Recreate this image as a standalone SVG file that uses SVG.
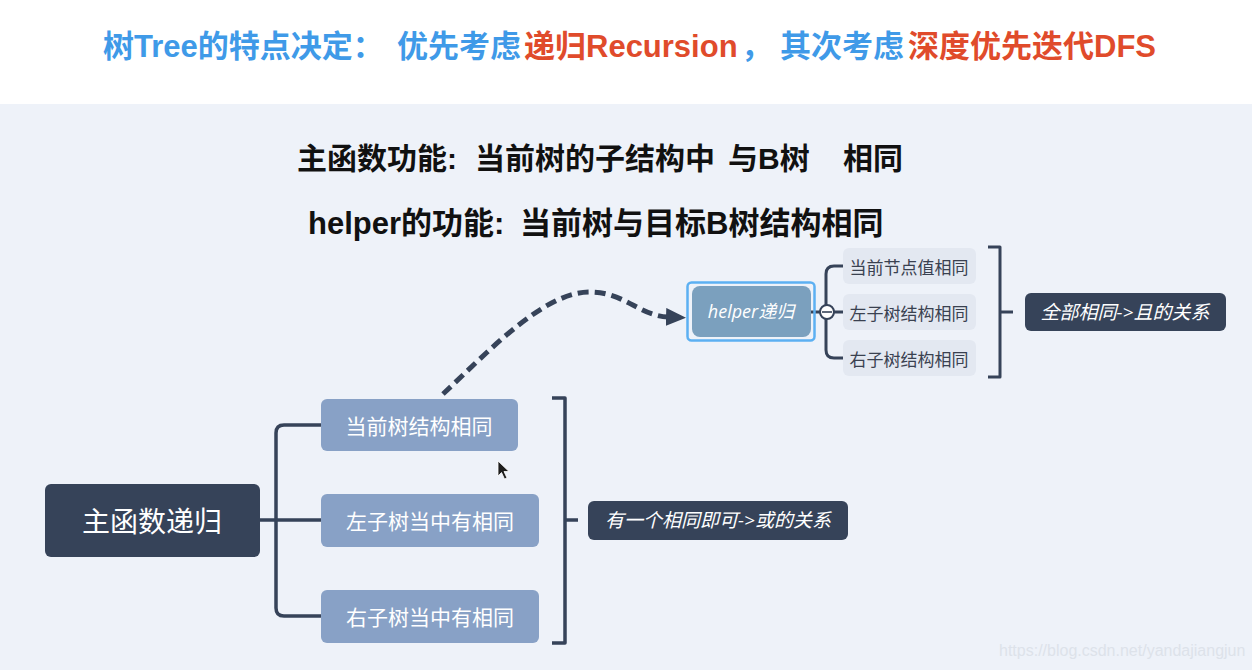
<svg xmlns="http://www.w3.org/2000/svg" width="1252" height="670" viewBox="0 0 1252 670">
  <defs>
    <style>
      .title { font-family: "Liberation Sans", "Noto Sans CJK SC", sans-serif; font-weight: bold; font-size: 31px; }
      .blue { fill: #3f9ae8; }
      .red { fill: #e04b2b; }
      .head { font-family: "Liberation Sans", "Noto Sans CJK SC", sans-serif; font-weight: bold; fill: #111111; }
      .dark { fill: #364359; }
      .child { fill: #88a1c6; }
      .light { fill: #e3e8f1; }
      .wtxt { font-family: "Noto Sans CJK SC", sans-serif; fill: #ffffff; text-anchor: middle; dominant-baseline: central; }
      .gtxt { font-family: "Noto Sans CJK SC", sans-serif; fill: #3a4150; font-size: 17px; text-anchor: middle; dominant-baseline: central; }
      .itxt { font-family: "Open Sans", "Noto Sans CJK SC", sans-serif; font-style: italic; fill: #ffffff; text-anchor: middle; dominant-baseline: central; }
      .line { fill: none; stroke: #364359; stroke-width: 3.5; stroke-linejoin: round; }
      .thin { fill: none; stroke: #364359; stroke-width: 3; stroke-linejoin: round; }
    </style>
    <marker id="arrow" viewBox="0 0 20 18" refX="2" refY="9" markerWidth="20" markerHeight="18" markerUnits="userSpaceOnUse" orient="auto">
      <path d="M0,0 L20,9 L0,18 Z" fill="#364359"/>
    </marker>
  </defs>

  <!-- backgrounds -->
  <rect x="0" y="0" width="1252" height="104" fill="#ffffff"/>
  <rect x="0" y="104" width="1252" height="566" fill="#eef2f9"/>

  <!-- title -->
  <text class="title" y="57">
    <tspan class="blue" x="103">树Tree的特点决定：</tspan>
    <tspan class="blue" x="397">优先考虑</tspan>
    <tspan class="red" x="524">递归Recursion</tspan>
    <tspan class="blue" x="741">，</tspan>
    <tspan class="blue" x="780">其次考虑</tspan>
    <tspan class="red" x="908">深度优先迭代DFS</tspan>
  </text>

  <!-- headings -->
  <text class="head" font-size="30" y="169">
    <tspan x="297">主函数功能:</tspan>
    <tspan x="475">当前树的子结构中</tspan>
    <tspan x="728">与B树</tspan>
    <tspan x="843">相同</tspan>
  </text>
  <text class="head" font-size="31" y="234">
    <tspan x="308">helper的功能:</tspan>
    <tspan x="520">当前树与目标B树结构相同</tspan>
  </text>

  <!-- connectors -->
  <g id="connectors">
    <path class="line" d="M260,520 H276 M321,425 H284 Q276,425 276,433 V608 Q276,616 284,616 H321 M276,520 H321"/>
    <path class="line" d="M552,398 H565 V643 H552 M565,520 H578"/>
    <path class="thin" d="M811,312 H843 M843,266 H834 Q826,266 826,274 V350 Q826,358 834,358 H843"/>
    <path class="thin" d="M988,247 H1000 V377 H988 M1000,312 H1013"/>
    <path d="M443,394 C488,352 545,290 592,292 C625,293 640,316 668,317" fill="none" stroke="#364359" stroke-width="5" stroke-dasharray="11 6" marker-end="url(#arrow)"/>
  </g>

  <!-- main node -->
  <g id="main">
    <rect class="dark" x="45" y="484" width="215" height="73" rx="6"/>
    <text class="wtxt" x="152" y="520" font-size="28">主函数递归</text>
  </g>

  <g id="c1">
    <rect class="child" x="321" y="399" width="197" height="52" rx="6"/>
    <text class="wtxt" x="419" y="425" font-size="21">当前树结构相同</text>
  </g>
  <g id="c2">
    <rect class="child" x="321" y="494" width="218" height="53" rx="6"/>
    <text class="wtxt" x="430" y="520" font-size="21">左子树当中有相同</text>
  </g>
  <g id="c3">
    <rect class="child" x="321" y="590" width="218" height="53" rx="6"/>
    <text class="wtxt" x="430" y="616" font-size="21">右子树当中有相同</text>
  </g>

  <g id="or-summary">
    <rect class="dark" x="588" y="501" width="260" height="39" rx="6"/>
    <text class="itxt" x="718" y="520" font-size="19">有一个相同即可-&gt;或的关系</text>
  </g>

  <!-- helper node -->
  <g id="helper">
    <rect x="687.5" y="282.5" width="127" height="58" rx="4" fill="none" stroke="#5cb0f2" stroke-width="2.5"/>
    <rect x="692" y="286" width="119" height="51" rx="8" fill="#7ba0be"/>
    <text class="itxt" x="751" y="311" font-size="18">helper递归</text>
  </g>
  <g id="collapse">
    <circle cx="827" cy="312" r="7" fill="#ffffff" stroke="#364359" stroke-width="2"/>
    <line x1="822" y1="312" x2="832" y2="312" stroke="#364359" stroke-width="1.6"/>
  </g>

  <g id="h1">
    <rect class="light" x="843" y="248" width="133" height="36" rx="6"/>
    <text class="gtxt" x="909" y="266">当前节点值相同</text>
  </g>
  <g id="h2">
    <rect class="light" x="843" y="294" width="133" height="36" rx="6"/>
    <text class="gtxt" x="909" y="312">左子树结构相同</text>
  </g>
  <g id="h3">
    <rect class="light" x="843" y="340" width="133" height="36" rx="6"/>
    <text class="gtxt" x="909" y="358">右子树结构相同</text>
  </g>

  <g id="and-summary">
    <rect class="dark" x="1025" y="293" width="201" height="38" rx="6"/>
    <text class="itxt" x="1125" y="312" font-size="19">全部相同-&gt;且的关系</text>
  </g>

  <!-- mouse cursor -->
  <path d="M498,461 L498,476 L501.5,472.5 L504.5,479 L507,478 L504,471.5 L509,471.5 Z" fill="#1d1d1d" stroke="#ffffff" stroke-width="0.8"/>

  <!-- watermark -->
  <text x="999" y="656" font-family="Liberation Sans, sans-serif" font-size="16" fill="#dde2ea">https://blog.csdn.net/yandajiangjun</text>
</svg>
